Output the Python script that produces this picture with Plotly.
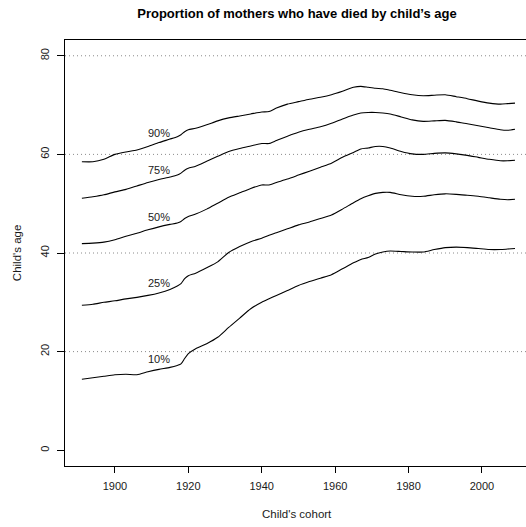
import plotly.graph_objects as go

# Child's birth cohort (x) and child's age at which the given share of mothers has died (y)
years = [1891, 1894, 1897, 1900, 1903, 1906, 1909, 1912, 1915, 1917, 1918, 1919, 1920,
         1922, 1925, 1928, 1931, 1934, 1937, 1940, 1942, 1944, 1947, 1950, 1953, 1956,
         1959, 1962, 1965, 1967, 1969, 1971, 1973, 1975, 1978, 1981, 1984, 1987, 1990,
         1993, 1996, 1999, 2002, 2005, 2007, 2009]

p10 = [14.4, 14.7, 15.0, 15.3, 15.4, 15.3, 15.9, 16.4, 16.8, 17.2, 17.5, 18.6, 19.6,
       20.6, 21.6, 22.9, 24.9, 26.8, 28.7, 30.0, 30.7, 31.4, 32.4, 33.4, 34.2, 34.9,
       35.6, 36.8, 38.0, 38.7, 39.1, 39.8, 40.2, 40.4, 40.3, 40.2, 40.2, 40.7, 41.1,
       41.2, 41.1, 40.9, 40.7, 40.7, 40.8, 40.9]

p25 = [29.4, 29.6, 30.0, 30.3, 30.7, 31.0, 31.4, 31.9, 32.6, 33.3, 33.8, 34.8, 35.4,
       35.9, 37.0, 38.2, 40.1, 41.3, 42.3, 43.0, 43.6, 44.1, 44.9, 45.7, 46.3, 47.0,
       47.7, 48.9, 50.2, 51.0, 51.6, 52.1, 52.3, 52.3, 51.8, 51.5, 51.5, 51.8, 52.0,
       51.9, 51.7, 51.5, 51.2, 50.9, 50.8, 50.9]

p50 = [41.9, 42.0, 42.2, 42.7, 43.4, 44.0, 44.7, 45.3, 45.8, 46.1, 46.4, 47.0, 47.4,
       47.9, 48.9, 50.1, 51.3, 52.2, 53.1, 53.8, 53.8, 54.3, 55.0, 55.8, 56.6, 57.4,
       58.2, 59.4, 60.4, 61.1, 61.3, 61.6, 61.6, 61.3, 60.6, 60.1, 60.0, 60.2, 60.3,
       60.1, 59.8, 59.4, 59.0, 58.7, 58.7, 58.8]

p75 = [51.1, 51.4, 51.8, 52.4, 52.9, 53.6, 54.3, 54.9, 55.4, 55.8, 56.2, 56.8, 57.2,
       57.6, 58.6, 59.6, 60.6, 61.2, 61.7, 62.2, 62.2, 62.8, 63.7, 64.5, 65.1, 65.6,
       66.3, 67.2, 68.0, 68.4, 68.5, 68.5, 68.4, 68.2, 67.6, 67.0, 66.7, 66.8, 66.9,
       66.6, 66.2, 65.8, 65.4, 65.0, 64.9, 65.1]

p90 = [58.5, 58.5, 59.0, 60.0, 60.5, 60.9, 61.6, 62.4, 63.1, 63.6, 64.0, 64.6, 65.0,
       65.3, 66.0, 66.8, 67.4, 67.8, 68.2, 68.6, 68.7, 69.4, 70.2, 70.7, 71.2, 71.6,
       72.1, 72.8, 73.6, 73.8, 73.6, 73.4, 73.3, 73.0, 72.5, 72.1, 71.9, 72.0, 72.1,
       71.7, 71.3, 70.8, 70.4, 70.2, 70.3, 70.4]

series_names = ["10%", "25%", "50%", "75%", "90%"]
series_values = [p10, p25, p50, p75, p90]
label_year = 1912

x_ticks = [1900, 1920, 1940, 1960, 1980, 2000]
y_ticks = [0, 20, 40, 60, 80]
grid_levels = [20, 40, 60, 80]

FONT = "Liberation Sans, Arial, Helvetica, sans-serif"
TEXT = "#1a1a1a"

fig = go.Figure()

# dotted reference lines across the panel
for g in grid_levels:
    fig.add_shape(type="line", xref="paper", x0=0, x1=1, yref="y", y0=g, y1=g,
                  line=dict(color="#8a8a8a", width=1, dash="1px,3px"), layer="below")

for name, vals in zip(series_names, series_values):
    fig.add_trace(go.Scatter(x=years, y=vals, mode="lines", name=name,
                             line=dict(color="black", width=1.1, shape="spline",
                                       smoothing=0.6),
                             showlegend=False, hoverinfo="skip"))
    yv = vals[years.index(label_year)]
    fig.add_annotation(x=label_year, y=yv, text=name, showarrow=False,
                       xanchor="center", yanchor="bottom", yshift=2,
                       font=dict(family=FONT, size=11, color=TEXT))

# axis titles
fig.add_annotation(xref="paper", yref="paper", x=(297 - 65) / 461, y=(465.7 - 514) / 425.7,
                   text="Child's cohort", showarrow=False, xanchor="center", yanchor="middle",
                   font=dict(family=FONT, size=11.5, color=TEXT))
fig.add_annotation(xref="paper", yref="paper", x=(17 - 65) / 461, y=(465.7 - 253) / 425.7,
                   text="Child's age", showarrow=False, textangle=-90,
                   xanchor="center", yanchor="middle",
                   font=dict(family=FONT, size=11.5, color=TEXT))

fig.update_layout(
    width=526, height=527,
    margin=dict(l=65, r=0, t=40, b=61.3),
    plot_bgcolor="white", paper_bgcolor="white",
    font=dict(family=FONT, color=TEXT),
    title=dict(text="<b>Proportion of mothers who have died by child\u2019s age</b>",
               x=297 / 526, xanchor="center", y=1 - 13.3 / 527, yanchor="middle",
               font=dict(family=FONT, size=13, color="black")),
    xaxis=dict(range=[1886.4, 2012.0], tickvals=x_ticks, ticks="outside", ticklen=6,
               tickcolor="black", showline=True, linecolor="black", linewidth=1,
               mirror=True, showgrid=False, zeroline=False,
               tickfont=dict(family=FONT, size=11, color=TEXT),
               ticklabelstandoff=4),
    yaxis=dict(range=[-3.2, 83.2], tickvals=y_ticks, ticks="outside", ticklen=7,
               tickcolor="black", showline=True, linecolor="black", linewidth=1,
               mirror=False, showgrid=False, zeroline=False, tickangle=-90,
               tickfont=dict(family=FONT, size=11, color=TEXT),
               ticklabelstandoff=4),
)

fig.write_html("out.html")
